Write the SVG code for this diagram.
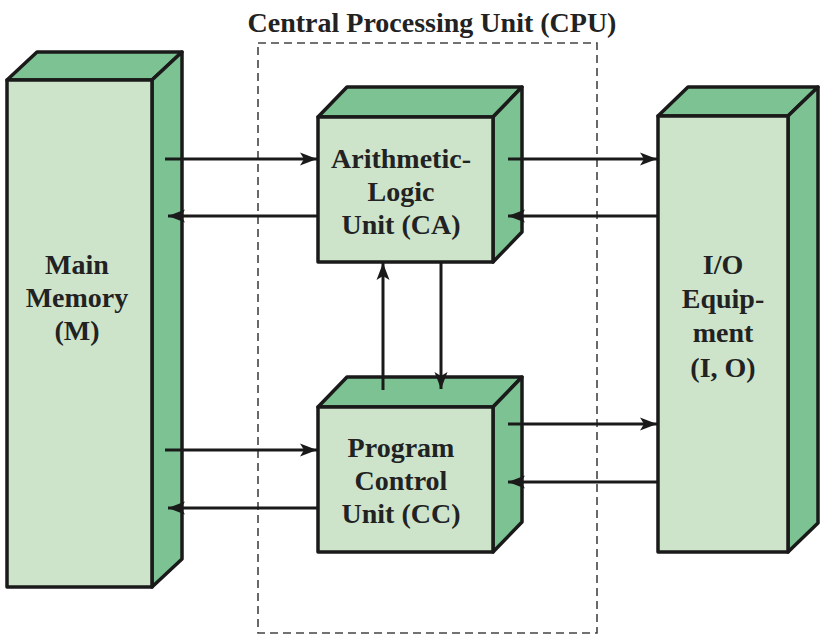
<svg xmlns="http://www.w3.org/2000/svg" width="827" height="641" viewBox="0 0 827 641">
<style>
.front{fill:#cde4cb;stroke:#1a1a1a;stroke-width:3.5;stroke-linejoin:round}
.face{fill:#7cc292;stroke:#1a1a1a;stroke-width:3.5;stroke-linejoin:round}
.lbl{font-family:"Liberation Serif","Times New Roman",serif;font-weight:bold;font-size:28px;fill:#222;text-anchor:middle}
.conn{stroke:#1a1a1a;stroke-width:3;fill:none;marker-end:url(#ah)}
</style>
<defs>
<marker id="ah" markerUnits="userSpaceOnUse" markerWidth="20" markerHeight="16" refX="17" refY="7.5" orient="auto">
<path d="M0,1 L17,7.5 L0,14 L4,7.5 z" fill="#1a1a1a"/>
</marker>
</defs>
<rect width="827" height="641" fill="#ffffff"/>
<g id="cpu">
<rect x="258" y="43" width="339" height="590" fill="none" stroke="#444" stroke-width="1.6" stroke-dasharray="8,5"/>
<text class="lbl" x="432" y="32">Central Processing Unit (CPU)</text>
</g>
<g id="main-memory">
<polygon class="face" points="7,80 37,52 182,52 152,80"/>
<polygon class="face" points="152,80 182,52 182,559 152,587"/>
<rect class="front" x="7" y="80" width="145" height="507"/>
<text class="lbl" x="77" y="274">Main</text>
<text class="lbl" x="77" y="307">Memory</text>
<text class="lbl" x="77" y="340">(M)</text>
</g>
<g id="alu">
<polygon class="face" points="318,117 347,87 522,87 493,117"/>
<polygon class="face" points="493,117 522,87 522,232 493,262"/>
<rect class="front" x="318" y="117" width="175" height="145"/>
<text class="lbl" x="401" y="168">Arithmetic-</text>
<text class="lbl" x="401" y="201">Logic</text>
<text class="lbl" x="401" y="234">Unit (CA)</text>
</g>
<g id="pcu">
<polygon class="face" points="318,407 347,377 522,377 493,407"/>
<polygon class="face" points="493,407 522,377 522,522 493,552"/>
<rect class="front" x="318" y="407" width="175" height="145"/>
<text class="lbl" x="401" y="457">Program</text>
<text class="lbl" x="401" y="490">Control</text>
<text class="lbl" x="401" y="523">Unit (CC)</text>
</g>
<g id="io">
<polygon class="face" points="658,116 688,87 818,87 788,116"/>
<polygon class="face" points="788,116 818,87 818,523 788,552"/>
<rect class="front" x="658" y="116" width="130" height="436"/>
<text class="lbl" x="723" y="274">I/O</text>
<text class="lbl" x="723" y="308">Equip-</text>
<text class="lbl" x="723" y="342">ment</text>
<text class="lbl" x="723" y="377">(I, O)</text>
</g>
<g id="connectors">
<line class="conn" x1="165" y1="159" x2="317" y2="159"/>
<line class="conn" x1="318" y1="216" x2="168" y2="216"/>
<line class="conn" x1="508" y1="159" x2="657" y2="159"/>
<line class="conn" x1="658" y1="216" x2="508" y2="216"/>
<line class="conn" x1="383" y1="390" x2="383" y2="263"/>
<line class="conn" x1="441" y1="262" x2="441" y2="389"/>
<line class="conn" x1="165" y1="450" x2="317" y2="450"/>
<line class="conn" x1="318" y1="508" x2="168" y2="508"/>
<line class="conn" x1="508" y1="424" x2="657" y2="424"/>
<line class="conn" x1="658" y1="482" x2="508" y2="482"/>
</g>
</svg>
